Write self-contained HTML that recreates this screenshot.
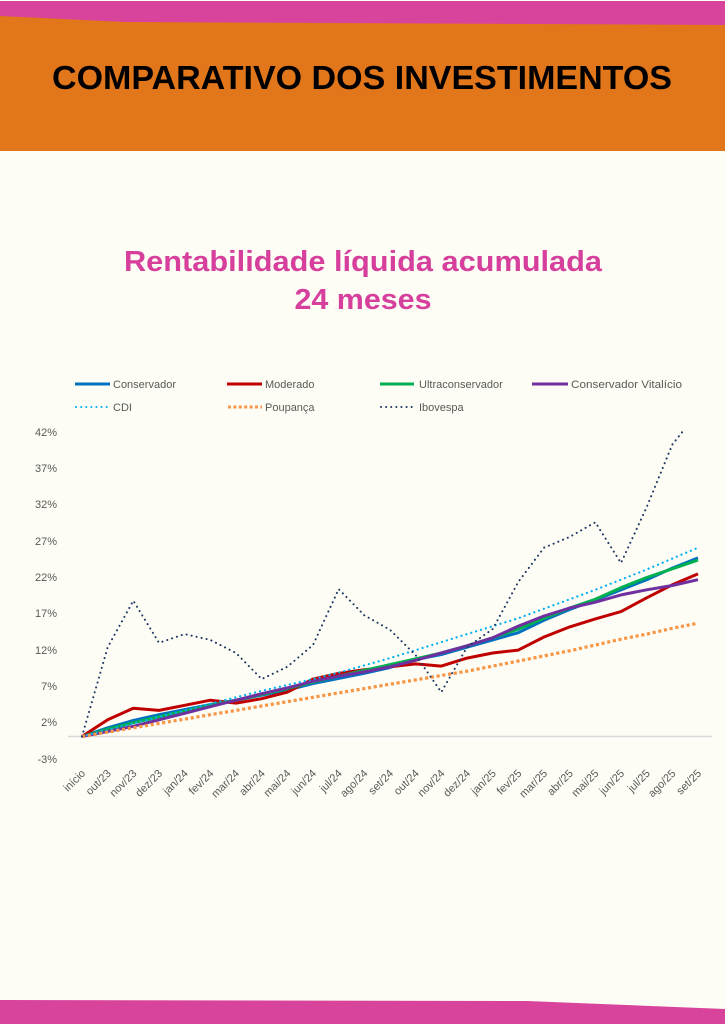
<!DOCTYPE html>
<html><head><meta charset="utf-8"><style>
html,body{margin:0;padding:0;background:#FDFDF5;}
svg{display:block;}
text{font-family:"Liberation Sans",sans-serif;}
</style></head><body>
<svg width="725" height="1024" viewBox="0 0 725 1024" xmlns="http://www.w3.org/2000/svg">
<rect x="0" y="0" width="725" height="1024" fill="#FDFDF5"/>
<!-- header -->
<rect x="0" y="1" width="725" height="30" fill="#D8449B"/>
<polygon points="0,16 125,22 725,25 725,151 0,151" fill="#E2761B"/>
<text x="52" y="89" font-size="33" font-weight="bold" fill="#000" textLength="620" lengthAdjust="spacingAndGlyphs">COMPARATIVO DOS INVESTIMENTOS</text>
<!-- footer -->
<polygon points="0,1000 527,1001 725,1009 725,1024 0,1024" fill="#D8449B"/>
<!-- chart title -->
<text x="363" y="271" font-size="29" font-weight="bold" fill="#D6409C" text-anchor="middle" textLength="478" lengthAdjust="spacingAndGlyphs">Rentabilidade líquida acumulada</text>
<text x="363" y="309" font-size="29" font-weight="bold" fill="#D6409C" text-anchor="middle" textLength="137" lengthAdjust="spacingAndGlyphs">24 meses</text>
<!-- legend -->
<g font-size="11" fill="#595959">
<line x1="75" y1="384" x2="110" y2="384" stroke="#0070C0" stroke-width="3"/>
<text x="113" y="388">Conservador</text>
<line x1="227" y1="384" x2="262" y2="384" stroke="#C00000" stroke-width="3"/>
<text x="265" y="388">Moderado</text>
<line x1="380" y1="384" x2="414" y2="384" stroke="#00B050" stroke-width="3"/>
<text x="419" y="388">Ultraconservador</text>
<line x1="532" y1="384" x2="568" y2="384" stroke="#7030A0" stroke-width="3"/>
<text x="571" y="388" textLength="111" lengthAdjust="spacingAndGlyphs">Conservador Vitalício</text>
<line x1="76" y1="407" x2="108" y2="407" stroke="#00B0F0" stroke-width="2" stroke-dasharray="0.1 5" stroke-linecap="round"/>
<text x="113" y="411">CDI</text>
<line x1="228" y1="407" x2="262" y2="407" stroke="#F79646" stroke-width="3" stroke-dasharray="3 2.4"/>
<text x="265" y="411">Poupança</text>
<line x1="381" y1="407" x2="414" y2="407" stroke="#1F3864" stroke-width="2" stroke-dasharray="0.1 5" stroke-linecap="round"/>
<text x="419" y="411">Ibovespa</text>
</g>
<!-- y axis labels -->
<g font-size="11" fill="#595959" text-anchor="end">
<text x="57" y="436">42%</text>
<text x="57" y="472">37%</text>
<text x="57" y="508">32%</text>
<text x="57" y="545">27%</text>
<text x="57" y="581">22%</text>
<text x="57" y="617">17%</text>
<text x="57" y="654">12%</text>
<text x="57" y="690">7%</text>
<text x="57" y="726">2%</text>
<text x="57" y="763">-3%</text>
</g>
<!-- zero line -->
<line x1="68" y1="736.5" x2="712" y2="736.5" stroke="#D9D9D9" stroke-width="1.5"/>
<!-- x labels -->
<g font-size="11" fill="#595959" text-anchor="end">
<text transform="translate(86,774) rotate(-45)">início</text>
<text transform="translate(111.7,774) rotate(-45)">out/23</text>
<text transform="translate(137.3,774) rotate(-45)">nov/23</text>
<text transform="translate(163,774) rotate(-45)">dez/23</text>
<text transform="translate(188.7,774) rotate(-45)">jan/24</text>
<text transform="translate(214.3,774) rotate(-45)">fev/24</text>
<text transform="translate(240,774) rotate(-45)">mar/24</text>
<text transform="translate(265.7,774) rotate(-45)">abr/24</text>
<text transform="translate(291.3,774) rotate(-45)">mai/24</text>
<text transform="translate(317,774) rotate(-45)">jun/24</text>
<text transform="translate(342.7,774) rotate(-45)">jul/24</text>
<text transform="translate(368.3,774) rotate(-45)">ago/24</text>
<text transform="translate(394,774) rotate(-45)">set/24</text>
<text transform="translate(419.7,774) rotate(-45)">out/24</text>
<text transform="translate(445.3,774) rotate(-45)">nov/24</text>
<text transform="translate(471,774) rotate(-45)">dez/24</text>
<text transform="translate(496.7,774) rotate(-45)">jan/25</text>
<text transform="translate(522.3,774) rotate(-45)">fev/25</text>
<text transform="translate(548,774) rotate(-45)">mar/25</text>
<text transform="translate(573.7,774) rotate(-45)">abr/25</text>
<text transform="translate(599.3,774) rotate(-45)">mai/25</text>
<text transform="translate(625,774) rotate(-45)">jun/25</text>
<text transform="translate(650.7,774) rotate(-45)">jul/25</text>
<text transform="translate(676.3,774) rotate(-45)">ago/25</text>
<text transform="translate(702,774) rotate(-45)">set/25</text>
</g>
<defs><clipPath id="plot"><rect x="60" y="430" width="660" height="340"/></clipPath></defs>
<g fill="none" stroke-linejoin="round" clip-path="url(#plot)">
<!-- Conservador -->
<polyline stroke="#0070C0" stroke-width="3" points="82,736.5 107.7,727.8 133.3,720.5 159,714.7 184.7,709.6 210.3,704.6 236,700.2 261.7,695.1 287.3,690 313,683.5 338.7,678.4 364.3,673.3 390,667.5 415.7,659.5 441.3,654.5 467,647.2 492.7,639.9 518.3,632.7 544,620.3 569.7,609.5 595.3,600 621,589.8 646.7,579.7 672.3,568.1 698,557.9"/>
<!-- Moderado -->
<polyline stroke="#C00000" stroke-width="3" points="82,736.5 107.7,719.8 133.3,708.2 159,710.4 184.7,705.3 210.3,700.2 236,703.1 261.7,698.7 287.3,692.2 313,679.1 338.7,673.3 364.3,669.7 390,666.8 415.7,663.9 441.3,666.1 467,658.1 492.7,653 518.3,650.1 544,637 569.7,626.9 595.3,618.9 621,611.6 646.7,597.8 672.3,584.8 698,573.9"/>
<!-- Ultraconservador -->
<polyline stroke="#00B050" stroke-width="3" points="82,736.5 107.7,729.2 133.3,722.7 159,716.9 184.7,711.1 210.3,705.3 236,700.2 261.7,694.4 287.3,688.6 313,682.1 338.7,676.2 364.3,670.4 390,664.6 415.7,658.8 441.3,653 467,645.8 492.7,637.8 518.3,629.1 544,618.2 569.7,608 595.3,599.3 621,587.7 646.7,577.5 672.3,568.8 698,560.1"/>
<!-- Conservador Vitalicio -->
<polyline stroke="#7030A0" stroke-width="3" points="82,736.5 107.7,731.4 133.3,726.3 159,719.8 184.7,713.3 210.3,706.7 236,700.2 261.7,693.7 287.3,687.9 313,681.3 338.7,676.2 364.3,671.9 390,666.8 415.7,660.3 441.3,653 467,645.8 492.7,637.8 518.3,626.1 544,616 569.7,608 595.3,602.2 621,594.9 646.7,589.8 672.3,585.5 698,579.7"/>
<!-- CDI -->
<polyline stroke="#00B0F0" stroke-width="2.2" stroke-dasharray="0.1 5" stroke-linecap="round" points="82,736.5 107.7,730 133.3,723.4 159,716.9 184.7,710.4 210.3,703.8 236,697.3 261.7,690.8 287.3,685 313,679.1 338.7,672.6 364.3,665.4 390,658.1 415.7,650.1 441.3,642.1 467,634.1 492.7,626.2 518.3,618.2 544,608.7 569.7,599.3 595.3,589.8 621,579.7 646.7,569.5 672.3,558.6 698,547.7"/>
<!-- Poupanca -->
<polyline stroke="#F79646" stroke-width="3.2" stroke-dasharray="3.2 2.6" points="82,736.5 107.7,732.1 133.3,727.8 159,723.4 184.7,719.1 210.3,714.7 236,710.4 261.7,706 287.3,701.7 313,697.3 338.7,692.9 364.3,688.6 390,684.2 415.7,679.9 441.3,675.5 467,671.2 492.7,666.1 518.3,661 544,655.9 569.7,650.8 595.3,645 621,639.2 646.7,634.1 672.3,628.3 698,623.2"/>
<!-- Ibovespa -->
<polyline stroke="#1F3864" stroke-width="2" stroke-dasharray="0.1 5" stroke-linecap="round" points="82,736.5 107.7,647.2 133.3,600.7 159,642.8 184.7,634.1 210.3,639.9 236,653 261.7,679.1 287.3,666.8 313,645 338.7,589.1 364.3,615.3 390,629.8 415.7,655.2 441.3,692.2 467,647.2 492.7,629.1 518.3,581.9 544,547.7 569.7,536.9 595.3,522.3 621,563 646.7,507.1 672.3,444.6 698,412"/>
</g>
</svg>
</body></html>
